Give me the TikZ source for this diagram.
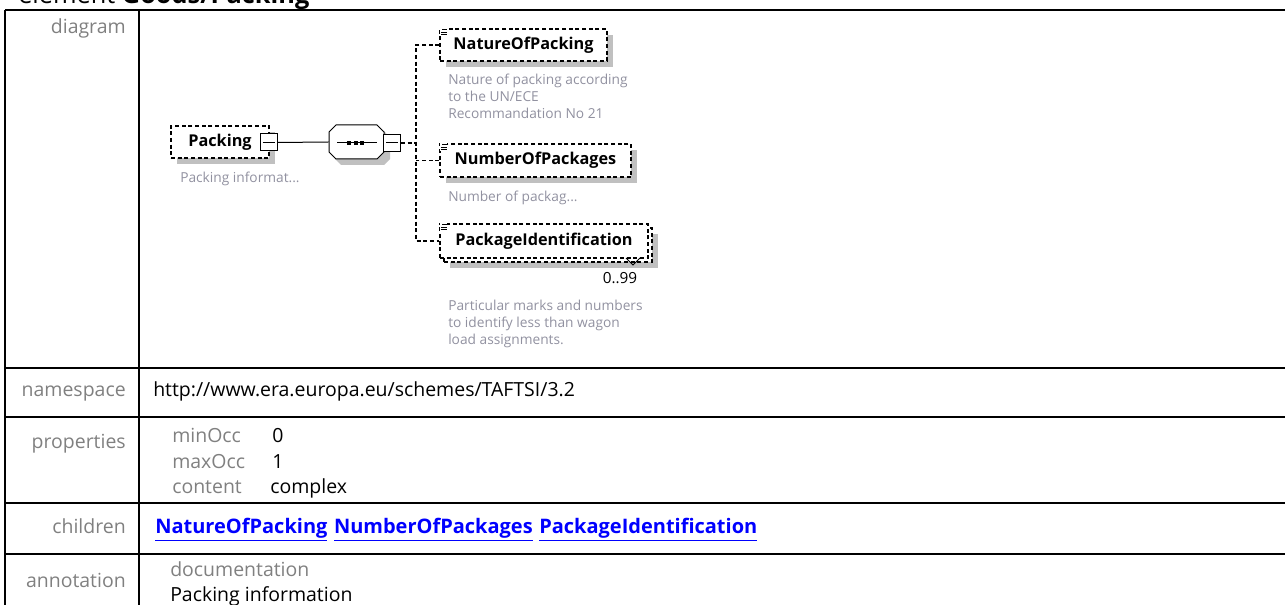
\documentclass[tikz,border=0pt]{standalone}
\usepackage{fontspec}
\setmainfont{Open Sans}
\usetikzlibrary{calc,shadows}
\definecolor{lblcol}{RGB}{128,128,128}
\definecolor{desccol}{RGB}{145,145,160}
\definecolor{shadcol}{RGB}{192,192,192}
\definecolor{linkcol}{RGB}{0,0,255}
\begin{document}
\begin{tikzpicture}[x=0.75pt,y=-0.75pt,
  tbl/.style={line width=1.5pt},
  rowlbl/.style={text=lblcol,font=\fontsize{14.6}{17}\selectfont,anchor=mid east,inner sep=0},
  rowval/.style={font=\fontsize{14.6}{17}\selectfont,anchor=mid west,inner sep=0},
  sublbl/.style={text=lblcol,font=\fontsize{14.6}{17}\selectfont,anchor=mid west,inner sep=0},
  linktext/.style={text=linkcol,font=\fontsize{15}{17}\selectfont\bfseries,anchor=mid west,inner sep=0},
  dsh/.style={line width=0.9pt,dash pattern=on 3pt off 2pt},
  elbox/.style={draw,dsh,fill=white,inner sep=0,font=\fontsize{12.2}{14}\selectfont\bfseries,
     drop shadow={shadow xshift=4.5pt,shadow yshift=-4.5pt,fill=shadcol,opacity=1}},
  descr/.style={text=desccol,font=\fontsize{10.3}{12.75}\selectfont,anchor=mid west,inner sep=0},
  sqbox/.style={draw,fill=white,line width=0.75pt,inner sep=0,minimum width=12.75pt,minimum height=12.75pt},
  solidline/.style={line width=0.75pt}
]
\useasboundingbox (0,0) rectangle (1285,605);
\clip (0,0) rectangle (1285,605);

% title
\node[anchor=base west,font=\fontsize{19}{21}\selectfont,inner sep=0] (title) at (18,3.5) {element \textbf{Goods/Packing}};

% table lines
\draw[tbl] (5,10) -- (1295,10);
\draw[tbl] (5,10) -- (5,615);
\draw[tbl] (139,10) -- (139,615);
\draw[tbl] (5,368) -- (1295,368);
\draw[tbl] (5,417) -- (1295,417);
\draw[tbl] (5,503) -- (1295,503);
\draw[tbl] (5,554) -- (1295,554);

% row labels
\node[rowlbl] (ldiag) at (126,30) {diagram};
\node[rowlbl] (lns) at (126,393) {namespace};
\node[rowlbl] (lprop) at (126,445) {properties};
\node[rowlbl] (lchild) at (126,530) {children};
\node[rowlbl] (lann) at (126,584) {annotation};

% values
\node[rowval] (vns) at (153,393) {http://www.era.europa.eu/schemes/TAFTSI/3.2};
\node[sublbl] (pmin) at (172,439) {minOcc};
\node[rowval] (vmin) at (272,439) {0};
\node[sublbl] (pmax) at (172,465) {maxOcc};
\node[rowval] (vmax) at (272,465) {1};
\node[sublbl] (pcont) at (172,490) {content};
\node[rowval] (vcont) at (270,490) {complex};
\node[linktext] (c1) at (155,530) {\underline{NatureOfPacking}};
\node[linktext] (c2) at (c1.east) [anchor=west,xshift=4.5pt] {\underline{NumberOfPackages}};
\node[linktext] (c3) at (c2.east) [anchor=west,xshift=4.5pt] {\underline{PackageIdentification}};
\node[sublbl] (adoc) at (170,573) {documentation};
\node[rowval] (atxt) at (170,598) {Packing information};

% ---- diagram ----
% Packing element
\node[elbox,minimum width=73.5pt,minimum height=24pt] (pk) at (220,142) {Packing\hspace{10pt}};
\node[descr] (pkd) at (180,179) {Packing informat...};
\node[sqbox] (pksq) at (268.5,142.5) {};
\draw[solidline] ($(pksq.center)+(-6,0)$) -- ($(pksq.center)+(6,0)$);

% sequence compositor
\fill[shadcol] (341,131) -- (384,131) -- (390,138) -- (390,159) -- (384,165) -- (341,165) -- (335,159) -- (335,138) -- cycle;
\node[minimum width=41.25pt,minimum height=25.5pt,inner sep=0] (seq) at (356.5,142) {};
\draw[solidline,fill=white] (336,125) -- (377,125) -- (384,132) -- (384,152) -- (377,159) -- (336,159) -- (329,152) -- (329,132) -- cycle;
\draw[solidline] (337,143) -- (377,143);
\fill (347,141) rectangle (351,145);
\fill (353.5,141) rectangle (357.5,145);
\fill (360,141) rectangle (364,145);
\node[sqbox] (seqsq) at (392,143) {};
\draw[solidline] ($(seqsq.center)+(-6,0)$) -- ($(seqsq.center)+(6,0)$);
\draw[solidline] (pksq.east) -- (seq.west);

% children
\node[elbox,minimum width=125.25pt,minimum height=24pt] (nat) at (523.5,45) {NatureOfPacking};
\node[elbox,minimum width=143.25pt,minimum height=24.75pt] (num) at (535.5,160.5) {NumberOfPackages};
\node[draw,dsh,fill=white,inner sep=0,minimum width=156pt,minimum height=25.5pt,
  drop shadow={shadow xshift=4.5pt,shadow yshift=-4.5pt,fill=shadcol,opacity=1}] (pib) at (548,245) {};
\node[draw,dsh,fill=white,inner sep=0,minimum width=156pt,minimum height=25.5pt,
  font=\fontsize{12.2}{14}\selectfont\bfseries] (pi) at (544,241) {PackageIdentification};
\draw[solidline] (626,258) -- (633,265) -- (640,258);
\node[anchor=mid,inner sep=0,font=\fontsize{11.5}{13}\selectfont] (occ) at (620,280) {0..99};

% icons on child boxes
\foreach \n in {nat,num,pi}{
  \fill[white] ($(\n.north west)+(1,-1)$) rectangle ($(\n.north west)+(8,8)$);
  \draw[line width=0.6pt] ($(\n.north west)+(3,1.5)$) -- ($(\n.north west)+(8,1.5)$);
  \draw[line width=0.6pt] ($(\n.north west)+(2,4)$) -- ($(\n.north west)+(8,4)$);
  \draw[line width=0.6pt] ($(\n.north west)+(2,6.5)$) -- ($(\n.north west)+(8,6.5)$);
}

% descriptions
\node[descr] (natd1) at (448,81) {Nature of packing according};
\node[descr] (natd2) at (448,98) {to the UN/ECE};
\node[descr] (natd3) at (448,115) {Recommandation No 21};
\node[descr] (numd) at (448,198) {Number of packag...};
\node[descr] (pid1) at (448,307) {Particular marks and numbers};
\node[descr] (pid2) at (448,324) {to identify less than wagon};
\node[descr] (pid3) at (448,341) {load assignments.};

% connectors
\coordinate (sp) at (416,143);
\draw[dsh] (seqsq.east) -- (sp);
\draw[dsh] (nat.west) -| (sp) |- (pi.west);
\draw[dsh] (num.west) -- (num.west -| sp);
\end{tikzpicture}
\end{document}
